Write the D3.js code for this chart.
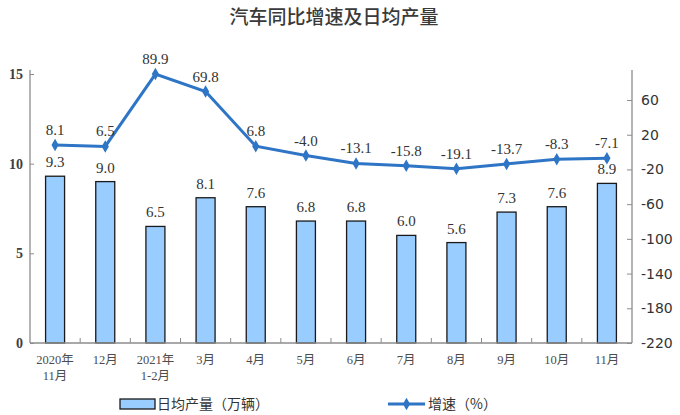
<!DOCTYPE html>
<html><head><meta charset="utf-8">
<script src="https://cdn.jsdelivr.net/npm/d3@7/dist/d3.min.js"></script>
<style>body{margin:0;background:#fff}</style>
</head><body>
<svg id="c" width="680" height="415"></svg>
<script>
const categories = ["2020年\n11月","12月","2021年\n1-2月","3月","4月","5月","6月","7月","8月","9月","10月","11月"];
const output = [9.3,9.0,6.5,8.1,7.6,6.8,6.8,6.0,5.6,7.3,7.6,8.9];
const growth = [8.1,6.5,89.9,69.8,6.8,-4.0,-13.1,-15.8,-19.1,-13.7,-8.3,-7.1];
const leftTicks = [0,5,10,15];
const rightTicks = [60,20,-20,-60,-100,-140,-180,-220];
const title = "汽车同比增速及日均产量";
const legendBar = "日均产量（万辆）";
const legendLine = "增速（%）";

const svg = d3.select("#c");
const L = 30, R = 632, T = 74, B = 343;
const serif = "'Liberation Serif','Noto Sans CJK SC',serif";
const xb = d3.scaleBand().domain(d3.range(categories.length)).range([L,R]);
const yL = d3.scaleLinear().domain([0,15]).range([B,T]);
const yR = d3.scaleLinear().domain([-220,90]).range([B,T]);
const axisColor = "#8c8c8c";

svg.append("text").attr("x",334).attr("y",24).attr("text-anchor","middle")
  .attr("font-family","'Noto Sans CJK SC'").attr("font-weight",500).attr("font-size",19).attr("fill","#3a3a3a").text(title);

// bars
svg.append("g").selectAll("rect").data(output).join("rect")
  .attr("x",(d,i)=>xb(i)+xb.bandwidth()/2-9.5).attr("width",19)
  .attr("y",d=>yL(d)).attr("height",d=>B-yL(d))
  .attr("fill","#99ccff").attr("stroke","#1a1a1a").attr("stroke-width",1.3);
svg.append("g").selectAll("text").data(output).join("text")
  .attr("x",(d,i)=>xb(i)+xb.bandwidth()/2).attr("y",d=>yL(d)-9)
  .attr("text-anchor","middle").attr("font-family",serif).attr("font-size",15).attr("fill","#333")
  .text(d=>d.toFixed(1));

// axes
const gL = svg.append("g").attr("transform",`translate(${L},0)`)
  .call(d3.axisRight(yL).tickValues(leftTicks).tickSize(4).tickFormat(d=>String(d)));
gL.select(".domain").remove();
gL.selectAll("line").attr("stroke",axisColor);
gL.selectAll("text").attr("x",-7).attr("text-anchor","end").attr("font-family",serif).attr("font-weight","bold").attr("font-size",14).attr("fill","#404040");
svg.append("line").attr("x1",L).attr("x2",L).attr("y1",T-4).attr("y2",B).attr("stroke",axisColor).attr("stroke-width",1.3);

const gR = svg.append("g").attr("transform",`translate(${R},0)`)
  .call(d3.axisLeft(yR).tickValues(rightTicks).tickSize(5).tickFormat(d=>String(d)));
gR.select(".domain").remove();
gR.selectAll("line").attr("stroke",axisColor);
gR.selectAll("text").attr("x",9).attr("text-anchor","start").attr("font-family","'DejaVu Sans'").attr("font-size",14).attr("fill","#333");
svg.append("line").attr("x1",R).attr("x2",R).attr("y1",T-4).attr("y2",B).attr("stroke",axisColor).attr("stroke-width",1.3);

// x axis
svg.append("line").attr("x1",L).attr("x2",R).attr("y1",B).attr("y2",B).attr("stroke",axisColor).attr("stroke-width",1.3);
svg.append("g").selectAll("line").data(d3.range(1,categories.length)).join("line")
  .attr("x1",d=>xb(d)).attr("x2",d=>xb(d)).attr("y1",B).attr("y2",B-5).attr("stroke",axisColor);
const xl = svg.append("g").selectAll("text").data(categories).join("text")
  .attr("x",(d,i)=>xb(i)+xb.bandwidth()/2).attr("y",B+21)
  .attr("text-anchor","middle").attr("font-family",serif).attr("font-size",12.5).attr("fill","#4d4d4d");
xl.each(function(d){
  const t=d3.select(this); d.split("\n").forEach((s,k)=>t.append("tspan").attr("x",t.attr("x")).attr("dy",k?16:0).text(s));
});

// line
const lineColor = "#2e75c6";
const line = d3.line().x((d,i)=>xb(i)+xb.bandwidth()/2).y(d=>yR(d));
svg.append("path").datum(growth).attr("d",line).attr("fill","none").attr("stroke",lineColor).attr("stroke-width",3);
const diamond = d3.symbol().type(d3.symbolDiamond).size(45);
svg.append("g").selectAll("path").data(growth).join("path")
  .attr("transform",(d,i)=>`translate(${xb(i)+xb.bandwidth()/2},${yR(d)})`).attr("d",diamond).attr("fill",lineColor);
svg.append("g").selectAll("text").data(growth).join("text")
  .attr("x",(d,i)=>xb(i)+xb.bandwidth()/2).attr("y",d=>yR(d)-10)
  .attr("text-anchor","middle").attr("font-family",serif).attr("font-size",15).attr("fill","#333")
  .text(d=>d.toFixed(1));

// legend
svg.append("rect").attr("x",120).attr("y",399).attr("width",35).attr("height",10).attr("fill","#99ccff").attr("stroke","#1a1a1a").attr("stroke-width",1.3);
svg.append("text").attr("x",157).attr("y",409).attr("font-family","'Noto Sans CJK SC'").attr("font-size",14).attr("fill","#333").text(legendBar);
svg.append("line").attr("x1",388).attr("x2",425).attr("y1",404).attr("y2",404).attr("stroke",lineColor).attr("stroke-width",3);
svg.append("path").attr("transform","translate(406.5,404)").attr("d",diamond).attr("fill",lineColor);
svg.append("text").attr("x",428).attr("y",409).attr("font-family","'Noto Sans CJK SC'").attr("font-size",14).attr("fill","#333").text(legendLine);
</script>
</body></html>
